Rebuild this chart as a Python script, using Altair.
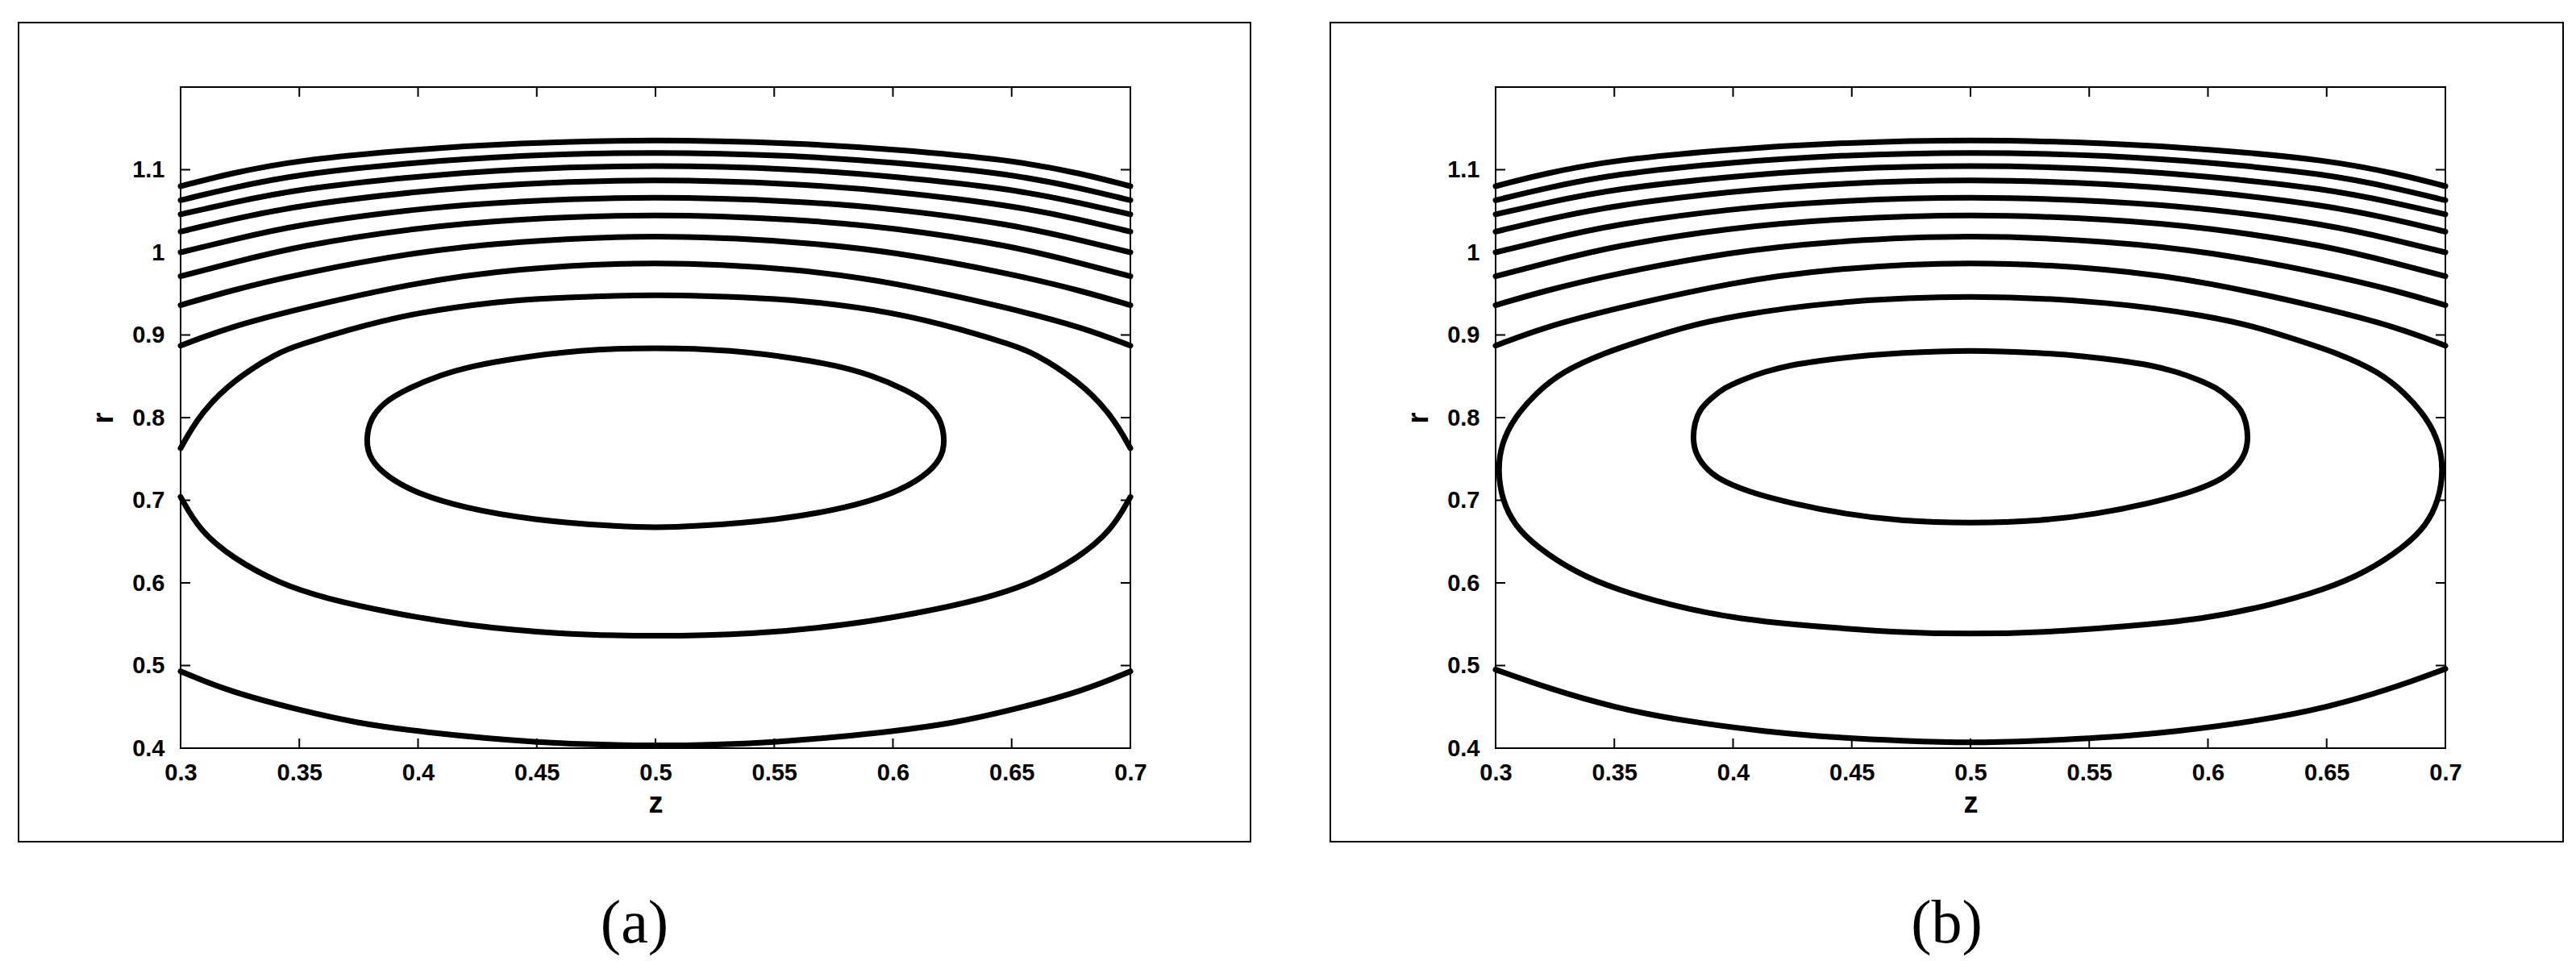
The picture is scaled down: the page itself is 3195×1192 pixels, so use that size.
import altair as alt
import pandas as pd

# ---------------- axis ticks ----------------
X_TICKS = [0.3, 0.35, 0.4, 0.45, 0.5, 0.55, 0.6, 0.65, 0.7]
Y_TICKS = [0.4, 0.5, 0.6, 0.7, 0.8, 0.9, 1.0, 1.1]

# ---------------- open top contours (same in both panels) ----------------
TOP_Z = [0.30, 0.32, 0.35, 0.40, 0.44, 0.50, 0.56, 0.60, 0.65, 0.68, 0.70]
TOP_C1 = [1.080, 1.095, 1.112, 1.125, 1.132, 1.137, 1.132, 1.125, 1.112, 1.095, 1.080]
TOP_C2 = [1.063, 1.077, 1.095, 1.109, 1.117, 1.122, 1.117, 1.109, 1.095, 1.077, 1.063]
TOP_C3 = [1.046, 1.059, 1.077, 1.092, 1.101, 1.106, 1.101, 1.092, 1.077, 1.059, 1.046]
TOP_C4 = [1.025, 1.039, 1.057, 1.074, 1.083, 1.089, 1.083, 1.074, 1.057, 1.039, 1.025]
TOP_C5 = [1.000, 1.014, 1.034, 1.053, 1.062, 1.068, 1.062, 1.053, 1.034, 1.014, 1.000]
TOP_C6 = [0.971, 0.986, 1.008, 1.030, 1.040, 1.047, 1.040, 1.030, 1.008, 0.986, 0.971]
TOP_C7 = [0.936, 0.953, 0.974, 1.001, 1.013, 1.022, 1.013, 1.001, 0.974, 0.953, 0.936]
TOP_C8 = [0.887, 0.909, 0.932, 0.964, 0.980, 0.990, 0.980, 0.964, 0.932, 0.909, 0.887]

# ---------------- panel (a) ----------------
A_BIG_UP_Z = [0.300, 0.308, 0.322, 0.341, 0.350, 0.370, 0.400, 0.436, 0.450, 0.500,
              0.550, 0.564, 0.600, 0.630, 0.650, 0.659, 0.678, 0.692, 0.700]
A_BIG_UP_R = [0.763, 0.804, 0.845, 0.879, 0.888, 0.906, 0.928, 0.941, 0.944, 0.950,
              0.944, 0.941, 0.928, 0.906, 0.888, 0.879, 0.845, 0.804, 0.763]
A_BIG_LO_Z = [0.300, 0.308, 0.322, 0.341, 0.361, 0.390, 0.419, 0.458, 0.500,
              0.542, 0.581, 0.610, 0.639, 0.659, 0.678, 0.692, 0.700]
A_BIG_LO_R = [0.704, 0.663, 0.630, 0.600, 0.581, 0.563, 0.549, 0.538, 0.535,
              0.538, 0.549, 0.563, 0.581, 0.600, 0.630, 0.663, 0.704]
A_IN_Z = [0.378, 0.380, 0.386, 0.394, 0.4095, 0.424, 0.439, 0.468, 0.500,
          0.532, 0.561, 0.576, 0.5905, 0.606, 0.614, 0.620, 0.622,
          0.6205, 0.613, 0.6003, 0.581, 0.552, 0.515, 0.500,
          0.485, 0.448, 0.419, 0.3997, 0.387, 0.3795]
A_IN_R = [0.773, 0.800, 0.819, 0.833, 0.852, 0.863, 0.871, 0.882, 0.885,
          0.882, 0.871, 0.863, 0.852, 0.833, 0.819, 0.800, 0.773,
          0.750, 0.728, 0.708, 0.691, 0.676, 0.668, 0.667,
          0.668, 0.676, 0.691, 0.708, 0.728, 0.750]
A_BOT_Z = [0.30, 0.32, 0.35, 0.375, 0.40, 0.45, 0.50, 0.55, 0.60, 0.625, 0.65, 0.68, 0.70]
A_BOT_R = [0.493, 0.469, 0.446, 0.430, 0.420, 0.406, 0.402, 0.406, 0.420, 0.430, 0.446, 0.469, 0.493]

# ---------------- panel (b) ----------------
B_BIG_Z = [0.3009, 0.3023, 0.3079, 0.317, 0.3283, 0.3453, 0.3634, 0.380, 0.400, 0.440, 0.500,
           0.560, 0.600, 0.620, 0.6366, 0.6547, 0.6717, 0.683, 0.6921, 0.6977, 0.6991,
           0.6972, 0.6921, 0.683, 0.666, 0.6491, 0.6264, 0.5981, 0.5642, 0.5302, 0.500,
           0.4698, 0.4358, 0.4019, 0.3736, 0.3509, 0.334, 0.317, 0.3079, 0.3028]
B_BIG_R = [0.735, 0.768, 0.800, 0.830, 0.856, 0.878, 0.895, 0.910, 0.923, 0.940, 0.949,
           0.940, 0.923, 0.910, 0.895, 0.878, 0.856, 0.830, 0.800, 0.768, 0.735,
           0.700, 0.670, 0.644, 0.612, 0.592, 0.573, 0.556, 0.547, 0.540, 0.538,
           0.540, 0.547, 0.556, 0.573, 0.592, 0.612, 0.644, 0.670, 0.700]
B_IN_Z = [0.383, 0.3838, 0.386, 0.3906, 0.3962, 0.4041, 0.4132, 0.4245, 0.4358, 0.4528, 0.4698, 0.500,
          0.5302, 0.5472, 0.5642, 0.5755, 0.5868, 0.5959, 0.6038, 0.6094, 0.614, 0.6162, 0.617,
          0.6157, 0.6106, 0.6038, 0.5925, 0.5755, 0.5529, 0.5302, 0.500,
          0.4698, 0.4471, 0.4245, 0.4075, 0.3962, 0.3894, 0.3843]
B_IN_R = [0.774, 0.794, 0.810, 0.823, 0.836, 0.846, 0.8556, 0.8637, 0.8686, 0.8745, 0.8783, 0.882,
          0.8783, 0.8745, 0.8686, 0.8637, 0.8556, 0.846, 0.836, 0.823, 0.810, 0.794, 0.774,
          0.7548, 0.7353, 0.7222, 0.7093, 0.6963, 0.6832, 0.6751, 0.672,
          0.6751, 0.6832, 0.6963, 0.7093, 0.7222, 0.7353, 0.7548]
B_BOT_Z = [0.30, 0.3226, 0.35, 0.379, 0.413, 0.447, 0.47, 0.50, 0.53, 0.553, 0.587, 0.621, 0.65, 0.6774, 0.70]
B_BOT_R = [0.495, 0.472, 0.449, 0.433, 0.420, 0.412, 0.409, 0.406, 0.409, 0.412, 0.420, 0.433, 0.449, 0.472, 0.496]

W, H = 1178, 820
LW = 7


def rows(name, zs, rs):
    return [{"curve": name, "seq": i, "z": z, "r": r} for i, (z, r) in enumerate(zip(zs, rs))]


TOP_SET = [("t1", TOP_C1), ("t2", TOP_C2), ("t3", TOP_C3), ("t4", TOP_C4),
           ("t5", TOP_C5), ("t6", TOP_C6), ("t7", TOP_C7), ("t8", TOP_C8)]


def panel(open_list, closed_list, label, frame_x, frame_x2, label_x):
    xs = alt.Scale(domain=[0.3, 0.7], nice=False, zero=False)
    ys = alt.Scale(domain=[0.4, 1.2], nice=False, zero=False)
    xaxis = alt.Axis(values=X_TICKS, format="~g", title="z", ticks=False, tickSize=0,
                     domain=False, grid=False, labelPadding=16, titlePadding=6,
                     labelFlush=False, labelOverlap=False)
    yaxis = alt.Axis(values=Y_TICKS, format="~g", title="r", ticks=False, tickSize=0,
                     domain=False, grid=False, labelPadding=20, titlePadding=16,
                     labelFlush=False, labelOverlap=False)
    X = alt.X("z:Q", scale=xs, axis=xaxis)
    Y = alt.Y("r:Q", scale=ys, axis=yaxis)

    open_rows = []
    for name, zs, rs in open_list:
        open_rows += rows(name, zs, rs)
    closed_rows = []
    for name, zs, rs in closed_list:
        closed_rows += rows(name, zs, rs)

    frame = alt.Chart(pd.DataFrame({"k": [0]})).mark_rect(
        filled=False, stroke="black", strokeWidth=2
    ).encode(x=alt.value(frame_x), x2=alt.value(frame_x2), y=alt.value(-80), y2=alt.value(936))

    open_lines = alt.Chart(pd.DataFrame(open_rows)).mark_line(
        color="black", strokeWidth=LW, interpolate="basis", strokeCap="round"
    ).encode(x=X, y=Y, detail="curve:N", order="seq:Q")

    closed_lines = alt.Chart(pd.DataFrame(closed_rows)).mark_line(
        color="black", strokeWidth=LW, interpolate="basis-closed"
    ).encode(x=X, y=Y, detail="curve:N", order="seq:Q")

    xt = pd.DataFrame({"z": X_TICKS})
    yt = pd.DataFrame({"r": Y_TICKS})
    tick_bottom = alt.Chart(xt).mark_rule(color="black", strokeWidth=2).encode(
        x=X, y=alt.value(H), y2=alt.value(H - 12))
    tick_top = alt.Chart(xt).mark_rule(color="black", strokeWidth=2).encode(
        x=X, y=alt.value(0), y2=alt.value(12))
    tick_left = alt.Chart(yt).mark_rule(color="black", strokeWidth=2).encode(
        y=Y, x=alt.value(0), x2=alt.value(12))
    tick_right = alt.Chart(yt).mark_rule(color="black", strokeWidth=2).encode(
        y=Y, x=alt.value(W), x2=alt.value(W - 12))

    text = alt.Chart(pd.DataFrame({"k": [0]})).mark_text(
        text=label, font="Liberation Serif", fontSize=76, align="center",
        baseline="alphabetic", color="black"
    ).encode(x=alt.value(label_x), y=alt.value(1061))

    return alt.layer(frame, open_lines, closed_lines, tick_bottom, tick_top,
                     tick_left, tick_right, text).properties(width=W, height=H)


open_a = [(n, TOP_Z, v) for n, v in TOP_SET] + [
    ("big_up", A_BIG_UP_Z, A_BIG_UP_R),
    ("big_lo", A_BIG_LO_Z, A_BIG_LO_R),
    ("bottom", A_BOT_Z, A_BOT_R),
]
closed_a = [("inner", A_IN_Z, A_IN_R)]

open_b = [(n, TOP_Z, v) for n, v in TOP_SET] + [
    ("bottom", B_BOT_Z, B_BOT_R),
]
closed_b = [("big", B_BIG_Z, B_BIG_R), ("inner", B_IN_Z, B_IN_R)]

pa = panel(open_a, closed_a, "(a)", -201, 1327, 563)
pb = panel(open_b, closed_b, "(b)", -205, 1324, 559.5)

chart = alt.hconcat(pa, pb, spacing=453, bounds="flush").properties(
    padding={"left": 13, "top": 18, "right": 5, "bottom": 0}
).configure_view(
    stroke="black", strokeWidth=2
).configure_axis(
    labelFont="Liberation Sans", labelFontSize=29, labelFontWeight="bold", labelColor="black",
    titleFont="Liberation Sans", titleFontSize=36, titleFontWeight="bold", titleColor="black"
)

chart.save("out.html", embed_options={"renderer": "svg", "actions": False})
